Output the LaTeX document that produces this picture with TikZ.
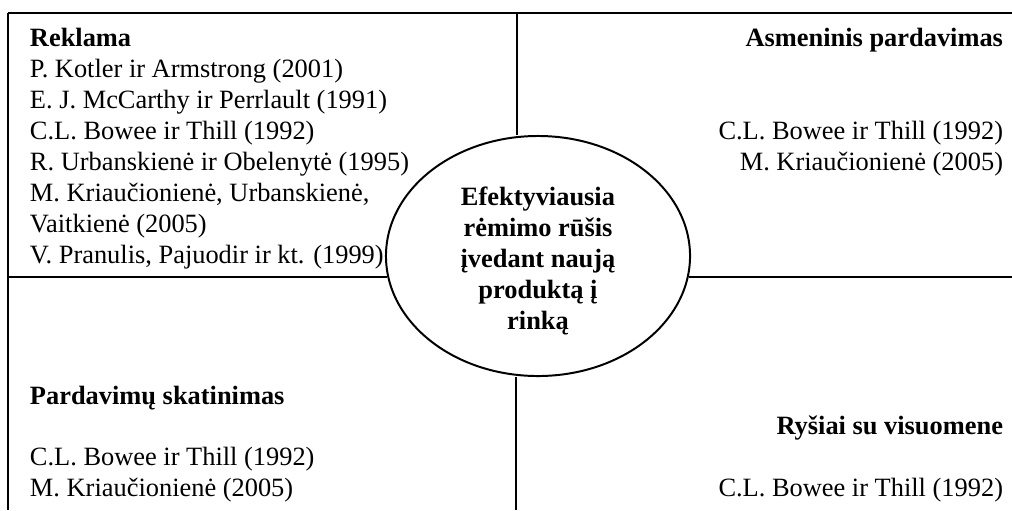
\documentclass[tikz,border=0pt]{standalone}
\usepackage{fontspec}
\setmainfont{Liberation Serif}
\usetikzlibrary{shapes.geometric}

\begin{document}
\begin{tikzpicture}[x=0.4545pt, y=-0.4545pt, line width=0.9pt,
  txt/.style={inner sep=0pt, font=\fontsize{12pt}{14.1pt}\selectfont},
  head/.style={inner sep=0pt, font=\fontsize{12pt}{14.1pt}\selectfont\bfseries},
  core/.style={draw, ellipse, inner sep=0pt, minimum width=138.2pt,
    minimum height=109.1pt},
  coretext/.style={inner sep=0pt, align=center,
    font=\fontsize{12pt}{14.1pt}\selectfont\bfseries}]
  \useasboundingbox (0,0) rectangle (1012,510);

  % frame and quadrant dividers
  \coordinate (tl) at (8,13);
  \coordinate (tr) at (1012,13);
  \coordinate (bl) at (8,510);
  \coordinate (ctop) at (517,13);
  \coordinate (cbot) at (516,510);
  \coordinate (ml) at (8,277);
  \coordinate (mr) at (1012,277);

  % central ellipse and its caption
  \node[core] (centre) at (538,256) {};
  \node[coretext] (centreText) at (538,261)
    {Efektyviausia\\ rėmimo rūšis\\ įvedant naują\\ produktą į\\ rinką};

  \draw (tl) -- (tr);
  \draw (tl) -- (bl);
  \draw (ctop) -- (centre.north -| ctop);
  \draw (centre.south -| cbot) -- (cbot);
  \draw (ml) -- (centre.188 |- ml);
  \draw (centre.-8 |- mr) -- (mr);

  % top left: advertising
  \node[head, anchor=base west] (rekH) at (29,46) {Reklama};
  \foreach \t [count=\i] in {{P. Kotler ir Armstrong (2001)},
      {E. J. McCarthy ir Perrlault (1991)},
      {C.L. Bowee ir Thill (1992)},
      {R. Urbanskienė ir Obelenytė (1995)},
      {M. Kriaučionienė, Urbanskienė,},
      {Vaitkienė (2005)},
      {V. Pranulis, Pajuodir ir kt. (1999)}}
    \node[txt, anchor=base west] (rek\i) at (29,46+31*\i) {\t};

  % top right: personal selling
  \node[head, anchor=base east] (asmH) at (1004,46) {Asmeninis pardavimas};
  \node[txt, anchor=base east] (asm1) at (1004,139) {C.L. Bowee ir Thill (1992)};
  \node[txt, anchor=base east] (asm2) at (1004,170) {M. Kriaučionienė (2005)};

  % bottom left: sales promotion
  \node[head, anchor=base west] (parH) at (29,404) {Pardavimų skatinimas};
  \node[txt, anchor=base west] (par1) at (29,465) {C.L. Bowee ir Thill (1992)};
  \node[txt, anchor=base west] (par2) at (29,496) {M. Kriaučionienė (2005)};

  % bottom right: public relations
  \node[head, anchor=base east] (rysH) at (1004,434) {Ryšiai su visuomene};
  \node[txt, anchor=base east] (rys1) at (1004,496) {C.L. Bowee ir Thill (1992)};
\end{tikzpicture}
\end{document}
